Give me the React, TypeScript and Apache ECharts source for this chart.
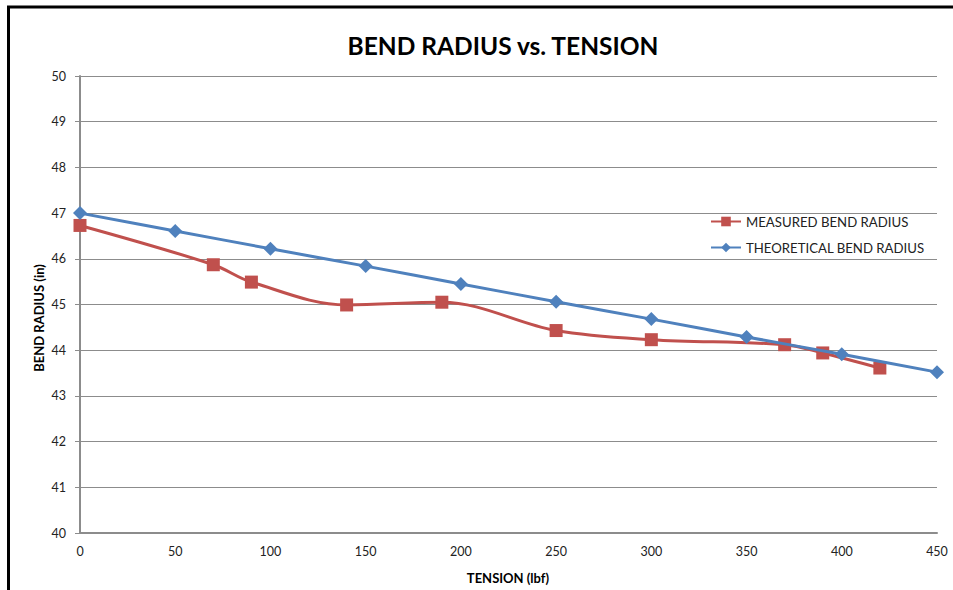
import React, { useEffect, useRef } from "react";
import * as echarts from "echarts";

const tensionMeasured = [0, 70, 90, 140, 190, 250, 300, 370, 390, 420];
const radiusMeasured = [46.73, 45.87, 45.49, 44.99, 45.05, 44.43, 44.23, 44.12, 43.94, 43.61];
const tensionTheory = [0, 50, 100, 150, 200, 250, 300, 350, 400, 450];
const radiusTheory = [47.0, 46.61, 46.22, 45.84, 45.45, 45.06, 44.68, 44.29, 43.91, 43.52];

const FONT = "Lato, 'Open Sans', sans-serif";

export default function App() {
  const ref = useRef<HTMLDivElement>(null);
  useEffect(() => {
    document.body.style.margin = "0";
    const chart = echarts.init(ref.current!, null, { renderer: "svg" });
    chart.setOption({
      animation: false,
      backgroundColor: "#ffffff",
      textStyle: { fontFamily: FONT },
      title: {
        text: "BEND RADIUS vs. TENSION",
        left: 498,
        top: 28,
        textAlign: "center",
        textStyle: { fontSize: 24.5, fontWeight: "bold", color: "#000", fontFamily: FONT },
      },
      grid: { left: 80, right: 16, top: 76, bottom: 57 },
      legend: {
        orient: "vertical",
        left: 705,
        top: 210,
        itemGap: 13,
        itemWidth: 30,
        itemHeight: 12,
        textStyle: { fontSize: 13.2, color: "#222", fontFamily: FONT },
        data: ["MEASURED BEND RADIUS", "THEORETICAL BEND RADIUS"],
      },
      xAxis: {
        type: "value",
        min: 0,
        max: 450,
        interval: 50,
        axisLine: { show: true, lineStyle: { color: "#8c8c8c", width: 2 } },
        axisTick: { show: false },
        splitLine: { show: false },
        axisLabel: { color: "#222", fontSize: 12.5, margin: 12, fontFamily: FONT },
      },
      yAxis: {
        type: "value",
        min: 40,
        max: 50,
        interval: 1,
        axisLine: { show: true, lineStyle: { color: "#8c8c8c", width: 2 } },
        axisTick: { show: true, length: 5, inside: false, lineStyle: { color: "#8c8c8c", width: 1 } },
        splitLine: { show: true, lineStyle: { color: "#8c8c8c", width: 1 } },
        axisLabel: { color: "#222", fontSize: 12.5, margin: 14, fontFamily: FONT },
      },
      series: [
        {
          name: "MEASURED BEND RADIUS",
          type: "line",
          smooth: 0.35,
          data: tensionMeasured.map((t, i) => [t, radiusMeasured[i]]),
          symbol: "rect",
          symbolSize: 13,
          lineStyle: { color: "#C0504D", width: 3 },
          itemStyle: { color: "#C0504D" },
          z: 3,
        },
        {
          name: "THEORETICAL BEND RADIUS",
          type: "line",
          smooth: 0.35,
          data: tensionTheory.map((t, i) => [t, radiusTheory[i]]),
          symbol: "diamond",
          symbolSize: 14,
          lineStyle: { color: "#4F81BD", width: 3 },
          itemStyle: { color: "#4F81BD" },
          z: 4,
        },
      ],
      graphic: [
        { type: "line", shape: { x1: 8.5, y1: 6, x2: 8.5, y2: 590 }, style: { stroke: "#000", lineWidth: 3 } },
        { type: "line", shape: { x1: 7, y1: 7, x2: 953, y2: 7 }, style: { stroke: "#000", lineWidth: 3 } },
        {
          type: "text",
          x: 39,
          y: 318,
          rotation: Math.PI / 2,
          style: {
            text: "BEND RADIUS (in)",
            fontSize: 13,
            fontWeight: "bold",
            fontFamily: FONT,
            fill: "#000",
            align: "center",
            verticalAlign: "middle",
          },
        },
        {
          type: "text",
          x: 508,
          y: 578,
          style: {
            text: "TENSION (lbf)",
            fontSize: 13,
            fontWeight: "bold",
            fontFamily: FONT,
            fill: "#000",
            align: "center",
            verticalAlign: "middle",
          },
        },
      ],
    });
    return () => chart.dispose();
  }, []);
  return <div ref={ref} style={{ width: 953, height: 590 }} />;
}
